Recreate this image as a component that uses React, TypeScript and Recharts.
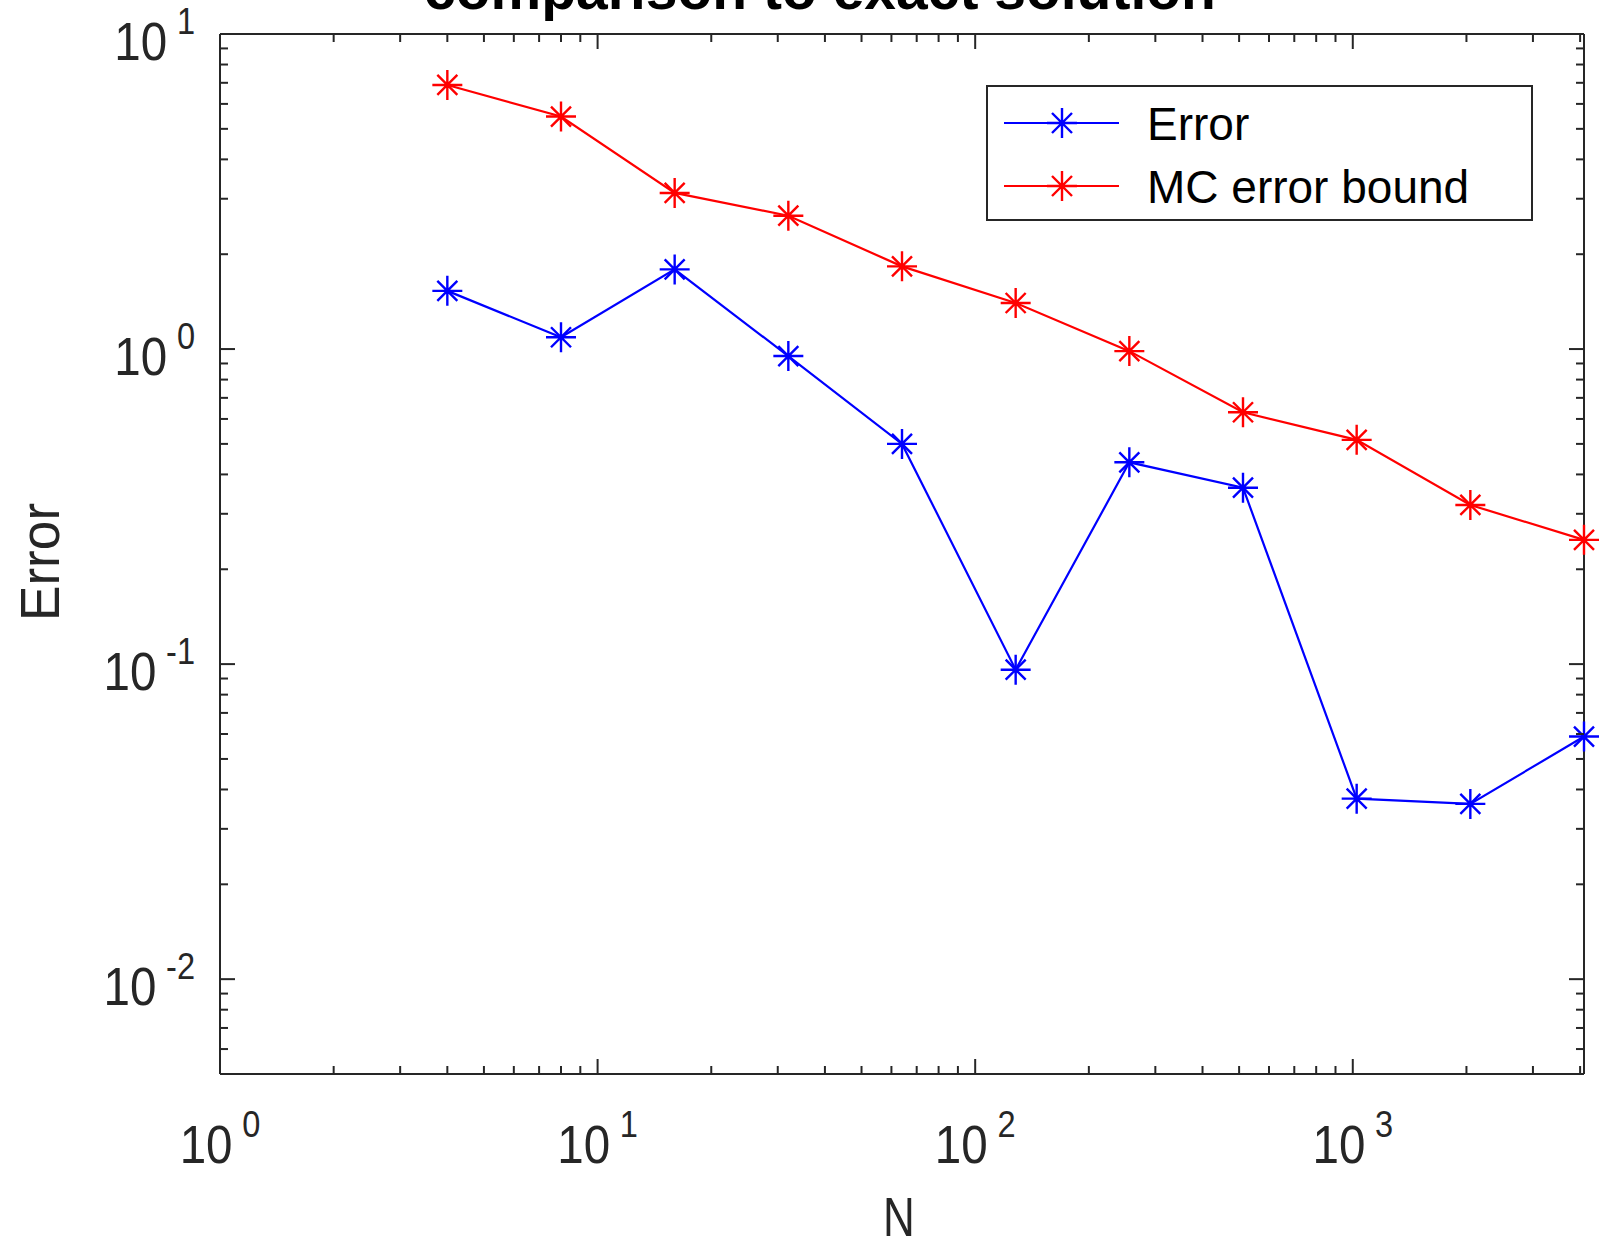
import { LineChart, Line, XAxis, YAxis, Legend } from "recharts";

// sample sizes and the two error curves
const N_VALUES = [4, 8, 16, 32, 64, 128, 256, 512, 1024, 2048, 4096];
const ERROR = [1.53, 1.09, 1.79, 0.95, 0.5, 0.096, 0.437, 0.363, 0.0374, 0.036, 0.0589];
const MC_BOUND = [6.89, 5.47, 3.13, 2.65, 1.83, 1.4, 0.985, 0.63, 0.515, 0.32, 0.248];

const X_MAJOR = [1, 10, 100, 1000];
const Y_MAJOR = [0.01, 0.1, 1, 10];
const X_MINOR = [2, 3, 4, 5, 6, 7, 8, 9, 20, 30, 40, 50, 60, 70, 80, 90,
  200, 300, 400, 500, 600, 700, 800, 900, 2000, 3000, 4000];
const Y_MINOR = [0.006, 0.007, 0.008, 0.009, 0.02, 0.03, 0.04, 0.05, 0.06, 0.07, 0.08, 0.09,
  0.2, 0.3, 0.4, 0.5, 0.6, 0.7, 0.8, 0.9, 2, 3, 4, 5, 6, 7, 8, 9];

const TITLE = "comparison to exact solution";
const X_LABEL = "N";
const Y_LABEL = "Error";

const data = N_VALUES.map((n, i) => ({ n, err: ERROR[i], bound: MC_BOUND[i] }));
const xTicks = [...X_MAJOR, ...X_MINOR].sort((a, b) => a - b);
const yTicks = [...Y_MAJOR, ...Y_MINOR].sort((a, b) => a - b);

const AX = "#262626";
const FONT = "'Liberation Sans', Arial, Helvetica, sans-serif";
const LEFT = 220, RIGHT = 1584, TOP = 34, BOTTOM = 1074;
const BLUE = "#0000ff";
const RED = "#ff0000";

function Star({ cx, cy, color }) {
  if (cx == null || cy == null) return null;
  const a = 15, d = 10;
  return (
    <path
      d={`M${cx - a},${cy}H${cx + a}M${cx},${cy - a}V${cy + a}M${cx - d},${cy - d}L${cx + d},${cy + d}M${cx - d},${cy + d}L${cx + d},${cy - d}`}
      stroke={color}
      strokeWidth={2.4}
      fill="none"
    />
  );
}

function Pow({ x, y, anchor, exp }) {
  return (
    <g transform={`translate(${x},${y}) scale(0.88,1)`}>
      <text x={0} y={0} textAnchor={anchor} fontFamily={FONT} fontSize={54} fill={AX}>
        <tspan>10</tspan>
        <tspan dx={11} dy={-26} fontSize={37}>{exp}</tspan>
      </text>
    </g>
  );
}

function XTick(props) {
  const { x, payload, side } = props;
  const v = payload.value;
  const major = X_MAJOR.includes(v);
  const len = major ? 15 : 8;
  const y0 = side === "bottom" ? BOTTOM : TOP;
  const y1 = side === "bottom" ? BOTTOM - len : TOP + len;
  return (
    <g>
      <line x1={x} x2={x} y1={y0} y2={y1} stroke={AX} strokeWidth={2} />
      {major && side === "bottom" && (
        <Pow x={x} y={1163} anchor="middle" exp={String(Math.round(Math.log10(v)))} />
      )}
    </g>
  );
}

function YTick(props) {
  const { y, payload, side } = props;
  const v = payload.value;
  const major = Y_MAJOR.some((m) => Math.abs(m - v) < 1e-9);
  const len = major ? 15 : 8;
  const x0 = side === "left" ? LEFT : RIGHT;
  const x1 = side === "left" ? LEFT + len : RIGHT - len;
  return (
    <g>
      <line x1={x0} x2={x1} y1={y} y2={y} stroke={AX} strokeWidth={2} />
      {major && side === "left" && (
        <Pow x={195} y={y + 26} anchor="end" exp={String(Math.round(Math.log10(v)))} />
      )}
    </g>
  );
}

function LegendBox({ payload }) {
  const items = payload || [];
  return (
    <svg width={547} height={136} style={{ display: "block" }}>
      <rect x={1} y={1} width={545} height={134} fill="#fff" stroke={AX} strokeWidth={2} />
      {items.map((it, i) => {
        const cy = 38 + i * 63;
        return (
          <g key={i}>
            <line x1={18} x2={133} y1={cy} y2={cy} stroke={it.color} strokeWidth={2.2} />
            <Star cx={76} cy={cy} color={it.color} />
            <text x={161} y={cy + 17} fontFamily={FONT} fontSize={46} fill="#000">
              {it.value}
            </text>
          </g>
        );
      })}
    </svg>
  );
}

function AxisTitles() {
  return (
    <g>
      <text x={820} y={9} textAnchor="middle" fontFamily={FONT} fontWeight="bold" fontSize={57} fill="#000">
        {TITLE}
      </text>
      <g transform="translate(59,562) rotate(-90) scale(0.95,1)">
        <text x={0} y={0} textAnchor="middle" fontFamily={FONT} fontSize={56} fill={AX}>
          {Y_LABEL}
        </text>
      </g>
    </g>
  );
}

export default function App() {
  return (
    <div style={{ position: "absolute", left: 0, top: 0 }}>
      <LineChart
        width={1599}
        height={1243}
        data={data}
        margin={{ top: TOP - 1, right: 1599 - RIGHT - 1, bottom: 0, left: 0 }}
      >
        <XAxis
          dataKey="n"
          type="number"
          scale="log"
          domain={[1, 4096]}
          ticks={xTicks}
          interval={0}
          height={1243 - BOTTOM}
          axisLine={{ stroke: AX, strokeWidth: 2 }}
          tickLine={false}
          tick={(p) => <XTick {...p} side="bottom" />}
          label={{
            content: () => (
              <g transform="translate(899,1236) scale(0.8,1)">
                <text x={0} y={0} textAnchor="middle" fontFamily={FONT} fontSize={55} fill={AX}>
                  {X_LABEL}
                </text>
              </g>
            ),
          }}
        />
        <XAxis
          xAxisId="top"
          orientation="top"
          dataKey="n"
          type="number"
          scale="log"
          domain={[1, 4096]}
          ticks={xTicks}
          interval={0}
          height={1}
          axisLine={{ stroke: AX, strokeWidth: 2 }}
          tickLine={false}
          tick={(p) => <XTick {...p} side="top" />}
        />
        <YAxis
          type="number"
          scale="log"
          domain={[0.005, 10]}
          ticks={yTicks}
          interval={0}
          width={LEFT}
          axisLine={{ stroke: AX, strokeWidth: 2 }}
          tickLine={false}
          tick={(p) => <YTick {...p} side="left" />}
          label={{ content: () => <AxisTitles /> }}
        />
        <YAxis
          yAxisId="right"
          orientation="right"
          type="number"
          scale="log"
          domain={[0.005, 10]}
          ticks={yTicks}
          interval={0}
          width={1}
          axisLine={{ stroke: AX, strokeWidth: 2 }}
          tickLine={false}
          tick={(p) => <YTick {...p} side="right" />}
        />
        <Legend
          layout="vertical"
          align="center"
          verticalAlign="middle"
          wrapperStyle={{ left: 986, top: 85, width: 547, height: 136 }}
          content={(p) => <LegendBox payload={p.payload} />}
        />
        <Line
          dataKey="err"
          name="Error"
          stroke={BLUE}
          strokeWidth={2.2}
          isAnimationActive={false}
          dot={(p) => <Star key={`e${p.index}`} cx={p.cx} cy={p.cy} color={BLUE} />}
        />
        <Line
          dataKey="bound"
          name="MC error bound"
          stroke={RED}
          strokeWidth={2.2}
          isAnimationActive={false}
          dot={(p) => <Star key={`b${p.index}`} cx={p.cx} cy={p.cy} color={RED} />}
        />
        <Line
          xAxisId="top"
          yAxisId="right"
          dataKey="bound"
          legendType="none"
          stroke="none"
          dot={false}
          activeDot={false}
          isAnimationActive={false}
        />
      </LineChart>
    </div>
  );
}
